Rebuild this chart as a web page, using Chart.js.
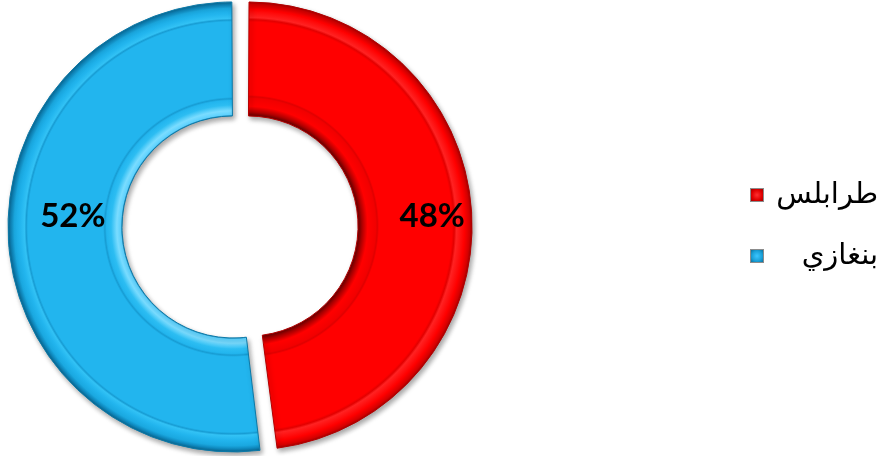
<!DOCTYPE html>
<html>
<head>
<meta charset="utf-8">
<script src="https://cdn.jsdelivr.net/npm/chart.js@4.4.1/dist/chart.umd.min.js"></script>
<style>
  html, body { margin: 0; padding: 0; background: #fff; }
  #wrap { position: relative; width: 880px; height: 456px; }
  #legend { position: absolute; left: 0; top: 0; width: 880px; height: 456px; pointer-events: none; }
  .item { position: absolute; left: 749px; width: 131px; height: 40px; }
  .box { position: absolute; left: 1px; top: 13px; width: 12px; height: 12px; border: 1px solid #8c8c8c; box-sizing: content-box; }
  .txt { position: absolute; right: 2px; top: -2px; line-height: 40px; font-family: "DejaVu Sans", sans-serif; font-size: 29px; direction: rtl; color: #000; }
</style>
</head>
<body>
<div id="wrap">
  <canvas id="myChart" width="880" height="456"></canvas>
  <div id="legend"></div>
</div>
<script>
// data
const cities = ['طرابلس', 'بنغازي'];
const shares = [48, 52];

// look of each slice: base colour + radial bevel stops (inner -> outer)
const palette = [
  {
    main: '#ff0000', edge: '#b30000',
    swatch: 'radial-gradient(circle, #ff3030 0%, #e00000 60%, #a00000 100%)',
    stops: [[0, '#6e0000'], [0.03, '#b00000'], [0.08, '#ff0000'], [0.15, '#f20000'], [0.165, '#e00000'], [0.18, '#ff0000'],
            [0.82, '#ff0000'], [0.84, '#e30000'], [0.86, '#ff2222'], [0.93, '#ff0000'], [0.975, '#d40000'], [1, '#9a0000']]
  },
  {
    main: '#21b5ee', edge: '#0b79a8',
    swatch: 'radial-gradient(circle, #3cc6ff 0%, #1aa0d8 60%, #0b6f9c 100%)',
    stops: [[0, '#0d84b8'], [0.015, '#5fd3ff'], [0.05, '#7adcff'], [0.1, '#2cbdf2'], [0.14, '#22b5ee'], [0.155, '#179cd3'], [0.17, '#22b5ee'],
            [0.83, '#22b5ee'], [0.845, '#179cd3'], [0.86, '#32c2f5'], [0.9, '#22b5ee'], [0.95, '#1aa8e0'], [0.98, '#0e86bb'], [1, '#0a6a95']]
  }
];

function ringFill(context) {
  const chart = context.chart;
  const look = palette[context.dataIndex];
  const area = chart.chartArea;
  const ctrl = chart.getDatasetMeta(0).controller;
  if (!area || !ctrl || !ctrl.outerRadius) return look.main;
  const cx = (area.left + area.right) / 2 + (ctrl.offsetX || 0);
  const cy = (area.top + area.bottom) / 2 + (ctrl.offsetY || 0);
  const g = chart.ctx.createRadialGradient(cx, cy, ctrl.innerRadius + 7, cx, cy, ctrl.outerRadius + 7);
  look.stops.forEach(([t, c]) => g.addColorStop(t, c));
  return g;
}

const shadow = {
  id: 'shadow',
  beforeDatasetsDraw(chart) {
    const c = chart.ctx;
    c.save();
    c.shadowColor = 'rgba(0,0,0,0.35)';
    c.shadowBlur = 5;
    c.shadowOffsetX = 2;
    c.shadowOffsetY = 3;
  },
  afterDatasetsDraw(chart) {
    chart.ctx.restore();
  }
};

const pctLabels = {
  id: 'pctLabels',
  afterDatasetsDraw(chart, args, opts) {
    const ctx = chart.ctx;
    const meta = chart.getDatasetMeta(0);
    const total = shares.reduce((a, b) => a + b, 0);
    ctx.save();
    ctx.font = 'bold 33px Lato';
    ctx.fillStyle = '#000';
    ctx.textAlign = 'center';
    ctx.textBaseline = 'middle';
    meta.data.forEach((arc, i) => {
      const p = arc.getProps(['x', 'y', 'startAngle', 'endAngle', 'innerRadius', 'outerRadius'], true);
      const half = (p.startAngle + p.endAngle) / 2;
      const r = (p.innerRadius + p.outerRadius) / 2 + (arc.options.offset || 0) / 4;
      const nudge = opts.nudge[i] || [0, 0];
      ctx.fillText(Math.round(shares[i] / total * 100) + '%',
        p.x + Math.cos(half) * r + nudge[0], p.y + Math.sin(half) * r + nudge[1]);
    });
    ctx.restore();
  }
};

const ctx = document.getElementById('myChart').getContext('2d');
const myChart = new Chart(ctx, {
  type: 'doughnut',
  data: {
    labels: cities,
    datasets: [{
      data: shares,
      backgroundColor: ringFill,
      borderColor: palette.map(p => p.edge),
      borderWidth: 1,
      offset: 30,
      hoverOffset: 30
    }]
  },
  options: {
    responsive: false,
    animation: false,
    events: [],
    radius: 217.5,
    cutout: '47.6%',
    layout: { padding: { left: 0, right: 399, top: 0, bottom: 3 } },
    plugins: {
      legend: { display: false },
      tooltip: { enabled: false },
      pctLabels: { nudge: [[24, 0], [0, -21]] }
    }
  },
  plugins: [shadow, pctLabels]
});

// legend on the right, built from the same arrays
const legend = document.getElementById('legend');
cities.forEach((name, i) => {
  const item = document.createElement('div');
  item.className = 'item';
  item.style.top = (175 + i * 61) + 'px';
  const box = document.createElement('div');
  box.className = 'box';
  box.style.background = palette[i].swatch;
  const txt = document.createElement('div');
  txt.className = 'txt';
  txt.textContent = name;
  item.appendChild(box);
  item.appendChild(txt);
  legend.appendChild(item);
});
</script>
</body>
</html>
